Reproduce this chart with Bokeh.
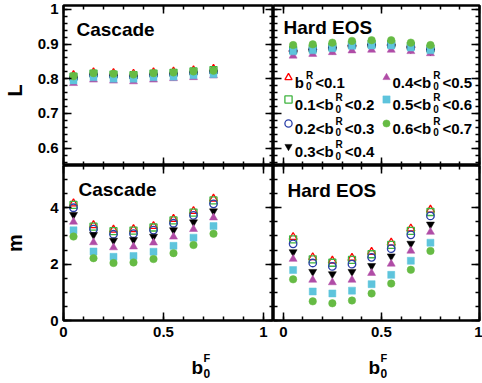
import math
from bokeh.plotting import figure
from bokeh.models import (Range1d, FixedTicker, LinearAxis, CustomJSTickFormatter,
                          CustomLabelingPolicy, Label, Legend, LegendItem)
from bokeh.layouts import gridplot
from bokeh.embed import file_html
from bokeh.resources import INLINE
from bokeh.core.properties import value

# ---------------- data ----------------
b0F_centers = [0.05, 0.15, 0.25, 0.35, 0.45, 0.55, 0.65, 0.75]

bin_lo = ["", "0.1<", "0.2<", "0.3<", "0.4<", "0.5<", "0.6<"]
bin_hi = ["<0.1", "<0.2", "<0.3", "<0.4", "<0.5", "<0.6", "<0.7"]

L_cascade = [
    [0.810, 0.818, 0.816, 0.814, 0.818, 0.820, 0.824, 0.828],
    [0.806, 0.815, 0.812, 0.810, 0.815, 0.817, 0.821, 0.825],
    [0.802, 0.811, 0.808, 0.806, 0.811, 0.813, 0.817, 0.820],
    [0.798, 0.807, 0.804, 0.802, 0.807, 0.809, 0.813, 0.816],
    [0.787, 0.797, 0.794, 0.792, 0.797, 0.801, 0.804, 0.809],
    [0.795, 0.804, 0.800, 0.800, 0.804, 0.806, 0.810, 0.813],
    [0.807, 0.816, 0.814, 0.812, 0.816, 0.818, 0.821, 0.823],
]
L_hard = [
    [0.885, 0.889, 0.894, 0.900, 0.902, 0.902, 0.896, 0.889],
    [0.883, 0.887, 0.892, 0.898, 0.900, 0.900, 0.894, 0.887],
    [0.880, 0.884, 0.889, 0.895, 0.897, 0.897, 0.891, 0.884],
    [0.875, 0.879, 0.884, 0.890, 0.892, 0.892, 0.886, 0.879],
    [0.866, 0.871, 0.876, 0.881, 0.883, 0.883, 0.879, 0.873],
    [0.879, 0.882, 0.888, 0.895, 0.896, 0.896, 0.890, 0.882],
    [0.897, 0.899, 0.904, 0.909, 0.911, 0.911, 0.904, 0.897],
]
m_cascade = [
    [4.15, 3.38, 3.22, 3.24, 3.35, 3.60, 3.88, 4.32],
    [4.10, 3.33, 3.17, 3.19, 3.30, 3.55, 3.83, 4.26],
    [4.00, 3.24, 3.06, 3.08, 3.21, 3.45, 3.73, 4.14],
    [3.75, 3.04, 2.84, 2.86, 2.98, 3.21, 3.49, 3.88],
    [3.50, 2.77, 2.59, 2.62, 2.76, 2.97, 3.24, 3.65],
    [3.20, 2.45, 2.26, 2.29, 2.44, 2.65, 2.94, 3.35],
    [2.98, 2.21, 2.04, 2.06, 2.18, 2.39, 2.68, 3.08],
]
m_hard = [
    [2.96, 2.24, 2.12, 2.22, 2.43, 2.76, 3.26, 3.93],
    [2.88, 2.17, 2.05, 2.15, 2.35, 2.68, 3.18, 3.85],
    [2.72, 2.04, 1.92, 2.00, 2.24, 2.55, 3.04, 3.71],
    [2.43, 1.73, 1.65, 1.73, 1.94, 2.28, 2.73, 3.41],
    [2.18, 1.44, 1.35, 1.44, 1.68, 2.01, 2.47, 3.14],
    [1.79, 1.03, 0.96, 1.06, 1.29, 1.62, 2.12, 2.76],
    [1.46, 0.68, 0.61, 0.71, 0.96, 1.31, 1.80, 2.47],
]

x_major = [0, 0.5, 1.0]
x_minor = [0, 0.1, 0.2, 0.3, 0.4, 0.5, 0.6, 0.7, 0.8, 0.9, 1.0]
L_major = [0.6, 0.7, 0.8, 0.9, 1.0]
L_minor = [0.56, 0.58, 0.60, 0.62, 0.64, 0.66, 0.68, 0.70, 0.72, 0.74, 0.76, 0.78,
           0.80, 0.82, 0.84, 0.86, 0.88, 0.90, 0.92, 0.94, 0.96, 0.98, 1.0]
m_major = [0, 2, 4]
m_minor = [0, 0.5, 1, 1.5, 2, 2.5, 3, 3.5, 4, 4.5, 5, 5.5]

# ---------------- style ----------------
FONT = "Liberation Sans"
MARKERS = ["triangle", "square", "circle", "inverted_triangle", "triangle", "square", "circle"]
COLORS = ["#ff0000", "#3fb43f", "#2a3fa8", "#000000", "#b04ca6", "#5ec4dc", "#66bb44"]
FILLED = [False, False, False, True, True, True, True]
SIZES = [8, 7, 7.5, 8, 8, 7, 7.5]

YW = 30                    # strip for the y titles
LB, FWL, FWR, RB = 33, 210, 206, 3
TB, FHT, FHB, BB = 5, 160, 155, 25
XH = 37                    # strip for the x titles

fmt = CustomJSTickFormatter(code="return String(Math.round(tick*100)/100);")
no_labels = CustomLabelingPolicy(code="for (const i of indices) indices.unset(i); return indices")


def add_axes(p, xt, yt, show_x, show_y):
    for loc in ("below", "above", "left", "right"):
        is_x = loc in ("below", "above")
        t = xt if is_x else yt
        ax = LinearAxis(ticker=FixedTicker(ticks=t[0], minor_ticks=t[1]), formatter=fmt,
                        axis_line_color=None,
                        major_tick_in=8, major_tick_out=0, minor_tick_in=4, minor_tick_out=0,
                        major_tick_line_width=1.5, minor_tick_line_width=1.5,
                        major_tick_line_color="black", minor_tick_line_color="black")
        shown = (loc == "below" and show_x) or (loc == "left" and show_y)
        if shown:
            ax.major_label_text_font = FONT
            ax.major_label_text_font_style = "bold"
            ax.major_label_text_font_size = "15px"
            ax.major_label_text_color = "black"
            ax.major_label_standoff = 6 if is_x else 5
        else:
            ax.major_label_text_font_size = "0px"
            ax.major_label_standoff = 0
            ax.major_label_policy = no_labels
        p.add_layout(ax, loc)


def make_panel(xr, yr, xt, yt, left, top, series):
    p = figure(x_range=Range1d(*xr), y_range=Range1d(*yr),
               frame_width=FWL if left else FWR, frame_height=FHT if top else FHB,
               min_border_left=LB if left else 0, min_border_right=0 if left else RB,
               min_border_top=TB if top else 0, min_border_bottom=0 if top else BB,
               output_backend="svg", toolbar_location=None, tools="",
               x_axis_location=None, y_axis_location=None, title=None)
    p.xgrid.grid_line_color = None
    p.ygrid.grid_line_color = None
    p.outline_line_color = "black"
    p.outline_line_width = 2.5
    p.background_fill_color = "white"
    p.border_fill_color = "white"
    add_axes(p, xt, yt, not top, left)
    rs = []
    for i, ys in enumerate(series):
        if FILLED[i]:
            r = p.scatter(b0F_centers, ys, marker=MARKERS[i], size=SIZES[i],
                          fill_color=COLORS[i], line_color=COLORS[i], line_width=0.5)
        else:
            r = p.scatter(b0F_centers, ys, marker=MARKERS[i], size=SIZES[i],
                          fill_color=None, line_color=COLORS[i], line_width=1.3)
        rs.append(r)
    return p, rs


def strip(w, h):
    s = figure(x_range=Range1d(0, 1), y_range=Range1d(0, 1), frame_width=w, frame_height=h,
               min_border_left=0, min_border_right=0, min_border_top=0, min_border_bottom=0,
               output_backend="svg", toolbar_location=None, tools="",
               x_axis_location=None, y_axis_location=None, title=None)
    s.xgrid.grid_line_color = None
    s.ygrid.grid_line_color = None
    s.outline_line_color = None
    s.border_fill_color = "white"
    return s


def text(p, x, y, s, size, **kw):
    kw.setdefault("text_baseline", "alphabetic")
    p.add_layout(Label(x=x, y=y, x_units="screen", y_units="screen", text=s,
                       text_font=FONT, text_font_style="bold", text_font_size=f"{size}px",
                       text_color="black", **kw))


W = {"0": 0.556, "1": 0.556, "2": 0.556, "3": 0.556, "4": 0.556, "5": 0.556, "6": 0.556,
     "7": 0.556, ".": 0.278, "<": 0.584, "b": 0.611, "R": 0.722, "F": 0.611}


def tw(s, size):
    return sum(W[c] for c in s) * size


xl = (0, 1.05)
xr = (-0.05, 1.0)
Lr = (0.55, 1.011)
mr = (0, 5.5)

p1, _ = make_panel(xl, Lr, (x_major, x_minor), (L_major, L_minor), True, True, L_cascade)
p2, rs2 = make_panel(xr, Lr, (x_major, x_minor), (L_major, L_minor), False, True, L_hard)
p3, _ = make_panel(xl, mr, (x_major, x_minor), (m_major, m_minor), True, False, m_cascade)
p4, _ = make_panel(xr, mr, (x_major, x_minor), (m_major, m_minor), False, False, m_hard)

# panel titles
text(p1, 13, 136, "Cascade", 19)
text(p2, 10, 138, "Hard EOS", 19)
text(p3, 15, 131, "Cascade", 19)
text(p4, 14, 130, "Hard EOS", 19)

# y axis titles
yt1 = strip(YW, TB + FHT)
yt2 = strip(YW, FHB + BB)
text(yt1, 14.5, 80, "L", 20, angle=math.pi / 2, text_align="center", text_baseline="middle")
text(yt2, 14, 102.5, "m", 20, angle=math.pi / 2, text_align="center", text_baseline="middle")

# x axis titles b_0^F
xt1 = strip(LB + FWL, XH)
xt2 = strip(FWR + RB, XH)
for s, x0 in ((xt1, 128), (xt2, 95)):
    text(s, x0, 15, "b", 19)
    bx = x0 + tw("b", 19) + 0.5
    text(s, bx, 9, "0", 12)
    text(s, bx, 25, "F", 11)

# legend (markers via Legend, text via labels)
col_x = [15.3, 113.0]
row_y = [88.3, 65.7, 42.3, 19.0]
MAIN, SUB, GAP = 15, 10, 2
for i, r in enumerate(rs2):
    col = 0 if i < 4 else 1
    row = i if i < 4 else i - 4
    cx, cy = col_x[col], row_y[row]
    lg = Legend(items=[LegendItem(label=value(" "), renderers=[r])], location=(cx - 9, cy - 9),
                padding=0, margin=0, spacing=0, glyph_width=18, glyph_height=18,
                label_height=18, label_width=1, label_standoff=0, label_text_font_size="1px",
                border_line_color=None, background_fill_alpha=0)
    p2.add_layout(lg)
    tx = cx + 6
    pre = bin_lo[i] + "b"
    text(p2, tx, cy - 5, pre, MAIN)
    sx = tx + tw(pre, MAIN) + GAP
    text(p2, sx, cy - 9, "0", SUB)
    text(p2, sx, cy + 2, "R", SUB)
    text(p2, sx + tw("R", SUB) + GAP, cy - 5, bin_hi[i], MAIN)

grid = gridplot([[yt1, p1, p2], [yt2, p3, p4], [None, xt1, xt2]], toolbar_location=None)

open("out.html", "w").write(file_html(grid, INLINE))
